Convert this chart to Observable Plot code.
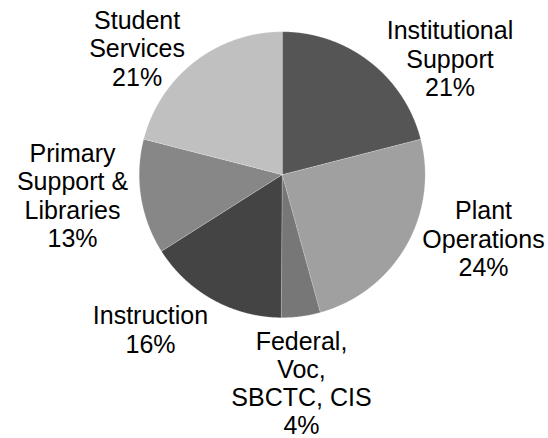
<!DOCTYPE html>
<html>
<head>
<meta charset="utf-8">
<script src="https://cdn.jsdelivr.net/npm/d3@7"></script>
<script src="https://cdn.jsdelivr.net/npm/@observablehq/plot@0.6"></script>
<style>
  html, body { margin: 0; padding: 0; background: #ffffff; }
  #chart { width: 548px; height: 438px; }
</style>
</head>
<body>
<div id="chart"></div>
<script>
// ---- data ----
const categories = [
  "Institutional Support",
  "Plant Operations",
  "Federal, Voc, SBCTC, CIS",
  "Instruction",
  "Primary Support & Libraries",
  "Student Services"
];
const shares = [21.0, 24.7, 4.4, 15.9, 13.0, 21.0];
const labelTexts = [
  "Institutional\nSupport\n21%",
  "Plant\nOperations\n24%",
  "Federal,\nVoc,\nSBCTC, CIS\n4%",
  "Instruction\n16%",
  "Primary\nSupport &\nLibraries\n13%",
  "Student\nServices\n21%"
];

// ---- layout / style (not data) ----
const shades = ["#555555", "#a0a0a0", "#777777", "#444444", "#878787", "#c0c0c0"];
const W = 548, H = 438;
const cx = 281.7, cy = 174.2, R = 143;
// label block centres, offsets from pie centre in px (layout)
const labelOffsets = [
  [167.8, -116], [201.3, 63.8], [19.3, 208.3],
  [-131.7, 154.8], [-209.7, 20.8], [-145.1, -126.4]
];

// build slice polygons from the shares
const total = d3.sum(shares);
const pts = [];
let acc = 0;
categories.forEach((c, i) => {
  const a0 = acc / total * 2 * Math.PI;
  acc += shares[i];
  const a1 = acc / total * 2 * Math.PI;
  pts.push({cat: c, x: 0, y: 0});
  const n = Math.max(2, Math.ceil((a1 - a0) / (Math.PI / 720)));
  for (let k = 0; k <= n; k++) {
    const a = a0 + (a1 - a0) * k / n;
    pts.push({cat: c, x: R * Math.sin(a), y: -R * Math.cos(a)});
  }
});

const labels = categories.map((c, i) => ({
  cat: c, text: labelTexts[i], x: labelOffsets[i][0], y: labelOffsets[i][1]
}));

const chart = Plot.plot({
  width: W,
  height: H,
  margin: 0,
  style: {background: "#ffffff", overflow: "visible"},
  x: {domain: [-cx, W - cx], range: [0, W], axis: null},
  y: {domain: [-cy, H - cy], range: [0, H], axis: null},
  color: {type: "ordinal", domain: categories, range: shades},
  marks: [
    Plot.line(pts, {
      x: "x", y: "y", z: "cat", fill: "cat",
      stroke: "#ffffff", strokeWidth: 0.4, strokeOpacity: 0.6,
      curve: "linear-closed"
    }),
    Plot.text(labels, {
      x: "x", y: "y", text: "text",
      fill: "#000000",
      fontSize: 25,
      lineHeight: 1.13,
      fontFamily: "'Liberation Sans', Arial, sans-serif",
      textAnchor: "middle",
      lineAnchor: "middle"
    })
  ]
});
document.getElementById("chart").appendChild(chart);
</script>
</body>
</html>
